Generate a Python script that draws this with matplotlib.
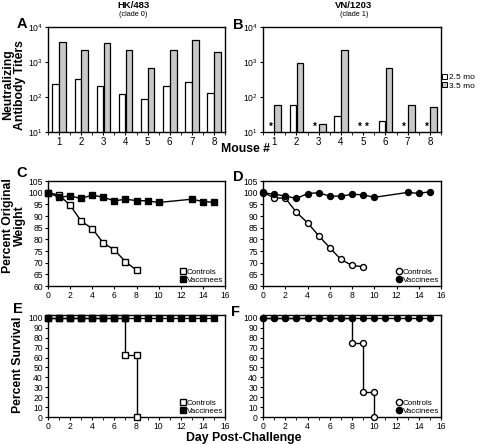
import matplotlib
matplotlib.use("Agg")
import matplotlib.pyplot as plt
import numpy as np
from matplotlib.lines import Line2D
from matplotlib.patches import Patch

plt.rcParams['font.family'] = ['Liberation Sans', 'DejaVu Sans']
plt.rcParams['mathtext.fontset'] = 'custom'
plt.rcParams['mathtext.rm'] = 'Liberation Sans'
plt.rcParams['mathtext.it'] = 'Liberation Sans'
plt.rcParams['mathtext.bf'] = 'Liberation Sans:bold'

# ---- data ----
mice = [1, 2, 3, 4, 5, 6, 7, 8]
hk_25 = [240, 330, 210, 120, 85, 210, 275, 133]
hk_35 = [3800, 2150, 3500, 2150, 680, 2150, 4300, 1950]
vn_25 = [np.nan, 59, np.nan, 29, np.nan, 21, np.nan, np.nan]
vn_35 = [59, 950, 17, 2200, np.nan, 690, 60, 52]

days = [0, 1, 2, 3, 4, 5, 6, 7, 8, 9, 10, 13, 14, 15]
c_ctrl_days = [0, 1, 2, 3, 4, 5, 6, 7, 8]
c_ctrl_wt = [100, 99, 94.6, 87.8, 84.6, 78.4, 75.5, 70.4, 66.8]
c_vac_wt = [100, 98, 98.6, 97.5, 99, 98, 96.5, 97.2, 96.6, 96.5, 95.8, 97.2, 96.2, 95.9]
c_vac_err = [0.3, 1.2, 0.8, 0.9, 0.8, 0.8, 0.9, 0.8, 0.9, 0.9, 0.8, 1.0, 1.0, 1.2]

d_ctrl_days = [0, 1, 2, 3, 4, 5, 6, 7, 8, 9]
d_ctrl_wt = [100.3, 97.7, 97.7, 91.6, 87.1, 81.6, 76.4, 71.4, 68.8, 68.3]
d_vac_wt = [100, 99.3, 98.6, 97.5, 99.6, 100, 98.5, 98.5, 99.3, 99.1, 98, 100.1, 99.7, 100.4]
d_vac_err = [0.3, 1.2, 1.0, 1.0, 1.0, 1.0, 1.0, 1.0, 1.0, 1.0, 0.9, 1.2, 1.2, 1.3]

surv_days = list(range(16))
vac_surv = [100] * 16
e_ctrl_days = [0, 1, 2, 3, 4, 5, 6, 7, 7, 8, 8]
e_ctrl_surv = [100, 100, 100, 100, 100, 100, 100, 100, 62.5, 62.5, 0]
f_ctrl_days = [0, 1, 2, 3, 4, 5, 6, 7, 8, 8, 9, 9, 10, 10]
f_ctrl_surv = [100, 100, 100, 100, 100, 100, 100, 100, 100, 75, 75, 25, 25, 0]

GRAY = '#c8c8c8'
W, H = 480, 444
fig = plt.figure(figsize=(W / 100, H / 100), dpi=100)


def ax_px(x0, x1, y0, y1):
    return fig.add_axes([x0 / W, 1 - y1 / H, (x1 - x0) / W, (y1 - y0) / H])


TICK_FS = 6.2


def style(ax):
    for s in ax.spines.values():
        s.set_linewidth(1.0)
    ax.tick_params(axis='both', labelsize=TICK_FS, length=2.5, width=0.8, pad=1.2,
                   direction='out')
    ax.tick_params(which='minor', length=1.8, width=0.6)


def bar_panel(ax, v25, v35):
    x = np.array(mice, dtype=float)
    ax.bar(x - 0.15, v25, width=0.3, color='white', edgecolor='black', linewidth=0.9)
    ax.bar(x + 0.16, v35, width=0.3, color=GRAY, edgecolor='black', linewidth=0.9)
    ax.set_yscale('log')
    ax.set_ylim(10, 10000)
    ax.set_xlim(0.55, 8.5)
    ax.set_xticks(mice)
    ax.set_xticks(np.arange(0.5, 9, 1), minor=True)
    ax.yaxis.set_minor_locator(matplotlib.ticker.NullLocator())
    ax.set_yticks([10, 100, 1000, 10000])
    ax.set_yticklabels([r'$10^1$', r'$10^2$', r'$10^3$', r'$10^4$'])
    style(ax)
    ax.tick_params(axis='x', labelsize=7)
    for xi, a, b in zip(x, v25, v35):
        if np.isnan(a):
            ax.text(xi - 0.15, 14, '*', ha='center', va='center', fontsize=7, fontweight='bold')
        if np.isnan(b):
            ax.text(xi + 0.16, 14, '*', ha='center', va='center', fontsize=7, fontweight='bold')


axA = ax_px(48, 225, 27, 132)
bar_panel(axA, hk_25, hk_35)
axB = ax_px(263, 441, 27, 132)
bar_panel(axB, vn_25, vn_35)
axB.legend(handles=[Patch(facecolor='white', edgecolor='black', linewidth=0.7),
                    Patch(facecolor=GRAY, edgecolor='black', linewidth=0.7)],
           labels=['2.5 mo', '3.5 mo'], loc='center left', bbox_to_anchor=(1.0, 0.48),
           frameon=False, fontsize=6, handlelength=0.6, handleheight=0.6,
           handletextpad=0.25, borderaxespad=0.0, borderpad=0.1, labelspacing=0.1)


def weight_panel(ax, cdays, cwt, vwt, verr, marker):
    ax.plot(cdays, cwt, color='black', lw=1, marker=marker, ms=4.3, mfc='white',
            mec='black', mew=1, clip_on=False, zorder=3, label='Controls')
    ax.errorbar(days, vwt, yerr=verr, color='black', lw=1, marker=marker, ms=4.3,
                mfc='black', mec='black', elinewidth=1.2, capsize=0, clip_on=False,
                zorder=4, label='Vaccinees')
    ax.set_xlim(0, 16)
    ax.set_ylim(60, 105)
    ax.set_xticks(range(0, 17, 2))
    ax.set_yticks(range(60, 106, 5))
    style(ax)
    leg_handles = [Line2D([], [], ls='none', marker=marker, ms=4.5, mfc='white', mec='black'),
                   Line2D([], [], ls='none', marker=marker, ms=4.5, mfc='black', mec='black')]
    ax.legend(leg_handles, ['Controls', 'Vaccinees'], loc='lower right', frameon=False,
              fontsize=5.8, handlelength=0.6, handletextpad=0.15, borderaxespad=0.15,
              borderpad=0.1, labelspacing=0.05)


axC = ax_px(48, 225, 181, 286)
weight_panel(axC, c_ctrl_days, c_ctrl_wt, c_vac_wt, c_vac_err, 's')
axD = ax_px(263, 441, 181, 286)
weight_panel(axD, d_ctrl_days, d_ctrl_wt, d_vac_wt, d_vac_err, 'o')


def surv_panel(ax, cdays, csurv, marker):
    ax.plot(cdays, csurv, color='black', lw=1, marker=marker, ms=4.3, mfc='white',
            mec='black', mew=1, clip_on=False, zorder=3)
    ax.plot(surv_days, vac_surv, color='black', lw=1, marker=marker, ms=4.3,
            mfc='black', mec='black', clip_on=False, zorder=4)
    ax.set_xlim(0, 16)
    ax.set_ylim(0, 103)
    ax.set_xticks(range(0, 17, 2))
    ax.set_xticks(range(0, 17, 1), minor=True)
    ax.set_yticks(range(0, 101, 10))
    style(ax)
    leg_handles = [Line2D([], [], ls='none', marker=marker, ms=4.5, mfc='white', mec='black'),
                   Line2D([], [], ls='none', marker=marker, ms=4.5, mfc='black', mec='black')]
    ax.legend(leg_handles, ['Controls', 'Vaccinees'], loc='lower right', frameon=False,
              fontsize=5.8, handlelength=0.6, handletextpad=0.15, borderaxespad=0.15,
              borderpad=0.1, labelspacing=0.05)


axE = ax_px(48, 225, 315, 417)
surv_panel(axE, e_ctrl_days, e_ctrl_surv, 's')
axF = ax_px(263, 441, 315, 417)
surv_panel(axF, f_ctrl_days, f_ctrl_surv, 'o')

# ---- texts ----
def ftxt(x, y, s, **kw):
    fig.text(x / W, 1 - y / H, s, **kw)


ftxt(133, 5, 'HK/483', ha='center', va='center', fontsize=6.8, fontweight='bold')
ftxt(133, 15, '(clade 0)', ha='center', va='center', fontsize=5.3)
ftxt(354, 5, 'VN/1203', ha='center', va='center', fontsize=6.8, fontweight='bold')
ftxt(354, 15, '(clade 1)', ha='center', va='center', fontsize=5.3)

for lbl, x, y in [('A', 22, 24), ('B', 238, 25), ('C', 22, 173), ('D', 238, 177),
                  ('E', 18, 309), ('F', 235, 312)]:
    ftxt(x, y, lbl, ha='center', va='center', fontsize=10.5, fontweight='bold')

ftxt(14, 85, 'Neutralizing\nAntibody Titers', ha='center', va='center', rotation=90,
     fontsize=8.8, fontweight='bold', linespacing=1.0)
ftxt(14, 226, 'Percent Original\nWeight', ha='center', va='center', rotation=90,
     fontsize=8.8, fontweight='bold', linespacing=1.0)
ftxt(18, 365, 'Percent Survival', ha='center', va='center', rotation=90,
     fontsize=8.8, fontweight='bold')
ftxt(246, 149, 'Mouse #', ha='center', va='center', fontsize=8.8, fontweight='bold')
ftxt(244, 438, 'Day Post-Challenge', ha='center', va='center', fontsize=8.8, fontweight='bold')

fig.savefig('out.png', dpi=100)
